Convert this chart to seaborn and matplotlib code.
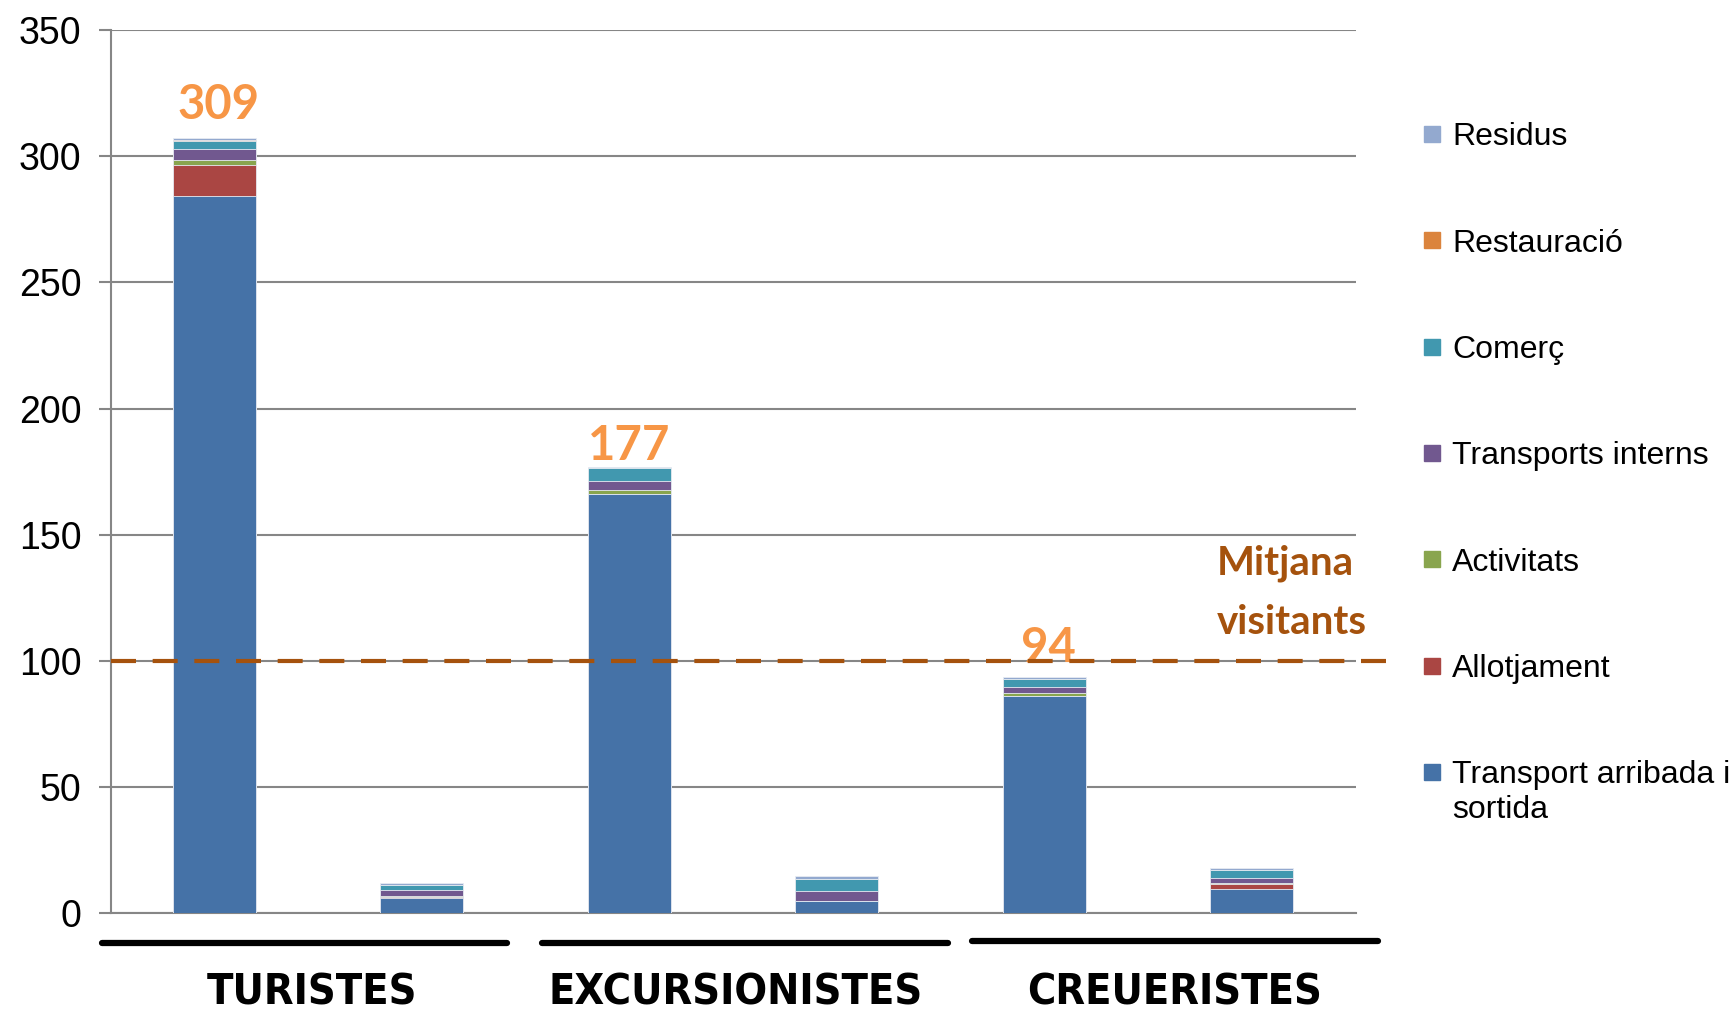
import numpy as np
import pandas as pd
import seaborn as sns
import matplotlib.pyplot as plt
from matplotlib.lines import Line2D

# bars (two per visitor group)
bars = ['Turistes 1', 'Turistes 2', 'Excursionistes 1', 'Excursionistes 2',
        'Creueristes 1', 'Creueristes 2']
transport_arribada = [284.0, 6.1, 166.3, 4.9, 86.0, 9.6]
allotjament = [12.3, 0.2, 0.0, 0.0, 0.0, 1.9]
activitats = [2.0, 0.5, 1.3, 0.0, 1.2, 0.6]
transports_interns = [4.6, 2.3, 3.8, 3.8, 2.5, 2.0]
comerc = [3.2, 2.0, 4.9, 4.9, 3.0, 2.9]
restauracio = [0.2, 0.1, 0.1, 0.1, 0.1, 0.2]
residus = [0.9, 0.8, 0.6, 0.9, 0.9, 0.7]

series_names = ['Transport arribada i sortida', 'Allotjament', 'Activitats',
                'Transports interns', 'Comerç', 'Restauració', 'Residus']
series_colors = ['#4572A7', '#AA4643', '#89A54E', '#71588F', '#4198AF', '#DB843D', '#93A9CF']

groups = ['TURISTES', 'EXCURSIONISTES', 'CREUERISTES']
total_labels = ['309', '177', '94']
mitjana = 100

series = [transport_arribada, allotjament, activitats, transports_interns,
          comerc, restauracio, residus]

df = pd.DataFrame({'bar': bars})
cum = np.zeros(len(bars))
for name, vals in zip(series_names, series):
    cum = cum + np.array(vals)
    df[name] = cum

sns.set_style('white')
plt.rcParams['font.family'] = ['Liberation Sans', 'DejaVu Sans']
plt.rcParams['text.color'] = 'black'

fig = plt.figure(figsize=(17.35, 10.14), dpi=100)
ax = fig.add_axes([0.0638, 0.0993, 0.7175, 0.8712])

# stacked bars: draw cumulative totals from the top series down
for name, col in reversed(list(zip(series_names, series_colors))):
    sns.barplot(data=df, x='bar', y=name, color=col, width=0.4, ax=ax,
                saturation=1, edgecolor='#e8ecf3', linewidth=0.6, zorder=3)

# average line
ax.plot([-0.5, 5.66], [mitjana, mitjana], color='#A5520D', lw=3,
        dashes=(6, 4), clip_on=False, zorder=4)
ax.text(4.83, 127, 'Mitjana\nvisitants', color='#A5520D', fontsize=29,
        fontweight='bold', family='Lato', ha='left', va='center', linespacing=1.75)

# total labels on the first bar of each group
for i, (lab, dx, dy) in enumerate(zip(total_labels, [0.02, 0, 0.02], [13, 8.3, 11.5])):
    top = df[series_names[-1]].iloc[2 * i]
    ax.text(2 * i + dx, top + dy, lab, color='#F79646', fontsize=34,
            fontweight='bold', family='Lato', ha='center', va='center')

ax.set_xlim(-0.5, 5.5)
ax.set_ylim(0, 350)
ax.set_yticks(range(0, 351, 50))
ax.set_xticks([])
ax.set_xlabel('')
ax.set_ylabel('')
ax.tick_params(axis='y', labelsize=27, length=9, width=1.5, color='#868686',
               labelcolor='black', left=True, pad=12)
ax.grid(axis='y', color='#868686', lw=1.5, zorder=0)
for s in ['top', 'right']:
    ax.spines[s].set_visible(False)
for s in ['left', 'bottom']:
    ax.spines[s].set_color('#868686')
    ax.spines[s].set_linewidth(1.5)

# legend (last label wraps, second line placed under the first)
handles = [Line2D([], [], marker='s', ls='', markersize=11.5, color=c)
           for c in reversed(series_colors)]
leg_labels = list(reversed(series_names))
leg_labels[-1] = 'Transport arribada i'
leg = fig.legend(handles, leg_labels, loc='upper left',
                 bbox_to_anchor=(0.8104, 0.892), frameon=False, fontsize=23,
                 labelspacing=2.39, handletextpad=0.25, handlelength=0.8,
                 borderaxespad=0)
fig.canvas.draw()
bb = leg.get_texts()[-1].get_window_extent().transformed(fig.transFigure.inverted())
fig.text(bb.x0, bb.y0 - 0.0345, 'sortida', fontsize=23, ha='left', va='bottom')

# group underlines and labels
for x0, x1, y in [(0.0587, 0.292, 0.0699), (0.3125, 0.5466, 0.0699), (0.56, 0.794, 0.0721)]:
    fig.add_artist(Line2D([x0, x1], [y, y], color='black', lw=4.5))
for g, xc in zip(groups, [0.18, 0.424, 0.677]):
    fig.text(xc, 0.021, g, ha='center', va='center', fontsize=31, color='black',
             fontweight='bold', family='DejaVu Sans', fontstretch='condensed')

fig.savefig('out.png', dpi=100)
